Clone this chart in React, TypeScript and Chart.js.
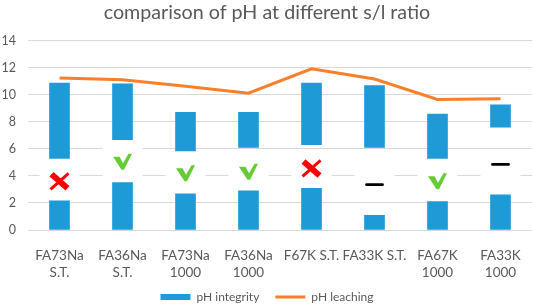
import React, { useEffect, useRef } from 'react';
import { Chart, registerables } from 'chart.js';

Chart.register(...registerables);

const categories: (string | string[])[] = [
  ['FA73Na', 'S.T.'],
  ['FA36Na', 'S.T.'],
  ['FA73Na', '1000'],
  ['FA36Na', '1000'],
  'F67K S.T.',
  'FA33K S.T.',
  ['FA67K', '1000'],
  ['FA33K', '1000'],
];
const integrityLow = [2.15, 3.5, 2.67, 2.9, 3.08, 1.09, 2.1, 2.6];
const integrityHighStart = [5.3, 6.67, 5.85, 6.1, 6.3, 6.1, 5.3, 7.6];
const integrityHighEnd = [10.87, 10.8, 8.7, 8.7, 10.87, 10.67, 8.57, 9.26];
const leaching = [11.23, 11.1, 10.62, 10.12, 11.92, 11.16, 9.65, 9.7];
const markerTypes = ['cross', 'check', 'check', 'check', 'cross', 'dash', 'check', 'dash'];
const markerValues = [3.6, 5.05, 4.2, 4.3, 4.55, 3.35, 3.6, 4.85];

const FONT = 'Lato, "Noto Sans", sans-serif';
const TEXT = '#595959';

const noLabelClip = {
  id: 'noLabelClip',
  beforeDraw(chart: any) {
    const xs = chart.scales.x;
    if (xs) xs._computeLabelArea = () => undefined;
  },
};

const markerPlugin = {
  id: 'markers',
  beforeDatasetsDraw(chart: any) {
    const { ctx, scales } = chart;
    const xs = scales.x;
    const ys = scales.y;
    ctx.save();
    markerTypes.forEach((t, i) => {
      const x = xs.getPixelForValue(i);
      const y = ys.getPixelForValue(markerValues[i]);
      ctx.fillStyle = '#ffffff';
      ctx.fillRect(x - 20, y - 15, 40, 30);
      if (t === 'cross') {
        ctx.strokeStyle = '#ff0000';
        ctx.lineCap = 'butt';
        ctx.lineWidth = 6;
        ctx.beginPath();
        ctx.moveTo(x - 8, y - 7);
        ctx.lineTo(x + 8, y + 7);
        ctx.stroke();
        ctx.lineWidth = 3;
        ctx.beginPath();
        ctx.moveTo(x + 9, y - 8);
        ctx.lineTo(x - 9, y + 8);
        ctx.stroke();
      } else if (t === 'check') {
        ctx.fillStyle = '#66cc33';
        ctx.beginPath();
        ctx.moveTo(x - 9.5, y - 5);
        ctx.lineTo(x - 3, y - 5);
        ctx.lineTo(x + 0.5, y + 1.5);
        ctx.lineTo(x + 6, y - 8);
        ctx.lineTo(x + 9.5, y - 8);
        ctx.lineTo(x + 1.5, y + 8);
        ctx.lineTo(x - 1, y + 8);
        ctx.closePath();
        ctx.fill();
      } else {
        ctx.strokeStyle = '#000000';
        ctx.lineCap = 'round';
        ctx.lineWidth = 2.8;
        ctx.beginPath();
        ctx.moveTo(x - 8, y);
        ctx.lineTo(x + 8, y);
        ctx.stroke();
      }
    });
    ctx.restore();
  },
};

export default function App() {
  const ref = useRef<HTMLCanvasElement | null>(null);
  useEffect(() => {
    document.body.style.margin = '0';
    const canvas = ref.current;
    if (!canvas) return;
    const chart = new Chart(canvas, {
      type: 'bar',
      data: {
        labels: categories,
        datasets: [
          {
            type: 'bar',
            label: 'pH integrity',
            data: integrityLow,
            backgroundColor: '#1e9ad6',
            borderWidth: 0,
            barThickness: 20,
            grouped: false,
            order: 2,
            pointStyle: 'rect',
          } as any,
          {
            type: 'bar',
            label: 'pH integrity',
            data: integrityHighStart.map((s, i) => [s, integrityHighEnd[i]]),
            backgroundColor: '#1e9ad6',
            borderWidth: 0,
            barThickness: 20,
            grouped: false,
            order: 2,
            pointStyle: 'rect',
          } as any,
          {
            type: 'line',
            label: 'pH leaching',
            data: leaching,
            borderColor: '#f97f2a',
            backgroundColor: '#f97f2a',
            borderWidth: 3,
            pointRadius: 0,
            tension: 0,
            order: 0,
            pointStyle: 'line',
          } as any,
        ],
      },
      options: {
        responsive: false,
        animation: false,
        layout: { padding: { left: 2, right: 1, top: 0, bottom: -9 } },
        plugins: {
          title: {
            display: true,
            text: 'comparison of pH at different s/l ratio',
            color: TEXT,
            font: { family: FONT, size: 19.7, weight: 'normal' },
            padding: { top: 1, bottom: 16 },
          },
          legend: {
            position: 'bottom',
            labels: {
              usePointStyle: true,
              pointStyleWidth: 30,
              boxHeight: 6,
              color: TEXT,
              font: { family: FONT, size: 12 },
              padding: 16,
              filter: (item: any) => item.datasetIndex !== 1,
              sort: (a: any, b: any) => a.datasetIndex - b.datasetIndex,
            },
          },
          tooltip: { enabled: false },
        },
        scales: {
          x: {
            grid: { display: false },
            border: { display: false },
            ticks: {
              color: TEXT,
              font: { family: FONT, size: 13.5, lineHeight: 1.26 },
              maxRotation: 0,
              autoSkip: false,
              padding: 9,
            },
            afterFit: (scale: any) => {
              scale.height = 45;
            },
          },
          y: {
            min: 0,
            max: 14,
            ticks: {
              stepSize: 2,
              color: TEXT,
              font: { family: FONT, size: 12.5 },
              padding: 12,
            },
            grid: { color: '#d9d9d9', drawTicks: false },
            border: { display: false },
            afterFit: (scale: any) => {
              scale.width = 26;
            },
          },
        },
      },
      plugins: [noLabelClip, markerPlugin],
    } as any);
    return () => chart.destroy();
  }, []);
  return (
    <div style={{ width: 533, height: 304 }}>
      <canvas ref={ref} width={533} height={304} style={{ display: 'block' }} />
    </div>
  );
}
